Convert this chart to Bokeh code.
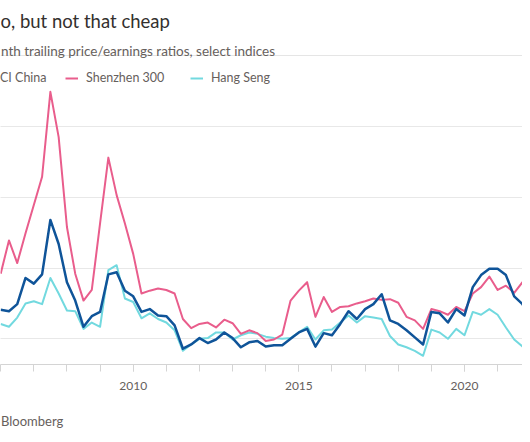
import pandas as pd
from bokeh.plotting import figure
from bokeh.layouts import column
from bokeh.models import Range1d, FixedTicker, Grid, Label, Legend, LegendItem, ColumnDataSource
from bokeh.embed import file_html
from bokeh.resources import INLINE

# ---- data (12-month trailing P/E, quarterly) ----
quarters = pd.period_range("2006Q1", "2022Q1", freq="Q")
msci_china = [14.1, 13.9, 14.9, 18.6, 17.8, 19.1, 26.8, 23.4, 18.0, 15.4,
              11.7, 13.2, 13.8, 19.1, 19.4, 16.8, 16.0, 13.8, 14.2, 13.3,
              13.2, 11.9, 8.6, 9.2, 10.1, 9.4, 9.9, 10.9, 10.1, 8.8,
              9.5, 9.7, 8.9, 9.1, 9.1, 10.0, 10.9, 11.4, 8.9, 10.8,
              10.5, 12.1, 13.9, 12.8, 14.2, 14.9, 16.3, 12.6, 12.1, 11.2,
              10.2, 9.2, 13.8, 13.6, 12.3, 14.2, 13.3, 17.3, 19.0, 19.9,
              19.9, 19.0, 16.0, 14.9, 12.3]
shenzhen_300 = [19.2, 23.9, 20.7, 24.9, 28.9, 32.9, 44.9, 38.5, 25.8, 19.2,
                15.4, 16.9, 26.3, 35.6, 30.3, 26.3, 22.0, 16.4, 16.8, 17.1,
                16.9, 16.4, 12.8, 11.5, 12.1, 12.3, 11.6, 12.7, 12.2, 10.7,
                11.2, 10.8, 9.7, 9.9, 10.6, 15.4, 16.8, 18.0, 13.1, 15.9,
                13.8, 14.5, 14.6, 15.0, 15.3, 15.7, 15.5, 15.6, 15.1, 13.1,
                12.6, 11.4, 14.2, 13.9, 13.4, 14.5, 13.9, 16.4, 17.3, 18.8,
                16.9, 17.5, 16.5, 18.0, 15.7]
hang_seng = [12.1, 11.7, 13.0, 15.0, 15.3, 14.9, 18.6, 16.4, 14.0, 13.9,
             11.4, 12.3, 11.7, 19.7, 20.4, 15.7, 15.2, 12.9, 13.6, 12.8,
             12.3, 11.2, 8.3, 9.2, 10.0, 10.1, 10.9, 10.9, 9.9, 10.5,
             10.9, 10.7, 10.3, 10.1, 10.0, 10.1, 10.9, 11.7, 9.9, 11.2,
             11.3, 12.3, 13.3, 12.3, 13.2, 13.0, 12.8, 10.4, 9.2, 8.8,
             8.3, 7.6, 11.3, 10.9, 10.0, 11.4, 10.5, 13.8, 13.4, 14.2,
             13.4, 11.6, 9.9, 8.9, 8.1]
series_names = ["CI China", "Shenzhen 300", "Hang Seng"]
year_labels = ["2010", "2015", "2020"]
year_minor = list(range(2006, 2023))
grid_values = [10, 20, 30, 40]

title_text = "o, but not that cheap"
subtitle_text = "nth trailing price/earnings ratios, select indices"
source_text = "Bloomberg"

# ---- styling ----
NAVY = "#0f5499"
PINK = "#e95d8c"
TEAL = "#72d9df"
GREY = "#66605c"
DARK = "#33302e"
AXIS = "#d4d4d4"
FONT = "Lato"

t = [q.year + (q.quarter - 1) / 4 for q in quarters]
src = ColumnDataSource(dict(t=t, msci=msci_china, szse=shenzhen_300, hs=hang_seng))

# pixel -> data helpers for text placement
def ix(px):
    return 2010 + (px - 132.7) / 33.13

def iy(py):
    return 10 + (338.3 - py) / 7.077

W = 522
p = figure(width=W, height=400, output_backend="svg", toolbar_location=None,
           x_range=Range1d(ix(0), ix(W)), y_range=Range1d(iy(364), iy(0)),
           y_axis_location=None, min_border_left=0, min_border_right=0,
           min_border_top=0, min_border_bottom=36)
p.outline_line_color = None
p.background_fill_color = "white"
p.border_fill_color = "white"
p.xgrid.visible = False

p.add_layout(Grid(dimension=1, ticker=FixedTicker(ticks=grid_values),
                  grid_line_color="#e8e8e8", grid_line_width=1))

xa = p.xaxis[0]
xa.ticker = FixedTicker(ticks=[int(y) for y in year_labels], minor_ticks=year_minor)
xa.axis_line_color = AXIS
xa.major_tick_line_color = AXIS
xa.minor_tick_line_color = AXIS
xa.major_tick_in = 0
xa.major_tick_out = 7
xa.minor_tick_in = 0
xa.minor_tick_out = 7
xa.major_label_standoff = 10
xa.major_label_text_font = FONT
xa.major_label_text_font_size = "12px"
xa.major_label_text_color = GREY

r_hs = p.line("t", "hs", source=src, line_color=TEAL, line_width=2, line_join="round")
r_sz = p.line("t", "szse", source=src, line_color=PINK, line_width=2, line_join="round")
r_ms = p.line("t", "msci", source=src, line_color=NAVY, line_width=2.5, line_join="round")

legend_pos = [-21, 65, 190]
for name, rend, vx in zip(series_names, [r_ms, r_sz, r_hs], legend_pos):
    lg = Legend(items=[LegendItem(label=name, renderers=[rend])], location=(vx, 276.5),
                orientation="horizontal", glyph_width=13, glyph_height=20, label_height=20,
                label_standoff=8, padding=0, margin=0, spacing=0,
                border_line_color=None, background_fill_alpha=0,
                label_text_font=FONT, label_text_font_size="12.5px", label_text_color=GREY)
    p.add_layout(lg)

p.add_layout(Label(x=ix(0), y=iy(20.5), text=title_text, text_font=FONT,
                   text_font_size="18.5px", text_color=DARK, text_baseline="alphabetic"))
p.add_layout(Label(x=ix(0.5), y=iy(50), text=subtitle_text, text_font=FONT,
                   text_font_size="13.5px", text_color=GREY, text_baseline="alphabetic"))

# source line in its own strip below the chart
q = figure(width=W, height=34, output_backend="svg", toolbar_location=None,
           x_range=Range1d(0, W), y_range=Range1d(34, 0),
           x_axis_location=None, y_axis_location=None,
           min_border_left=0, min_border_right=0, min_border_top=0, min_border_bottom=0)
q.outline_line_color = None
q.xgrid.visible = False
q.ygrid.visible = False
q.add_layout(Label(x=0.5, y=20, text=source_text, text_font=FONT,
                   text_font_size="13px", text_color=GREY, text_baseline="alphabetic"))

open("out.html", "w").write(file_html(column(p, q), INLINE))
